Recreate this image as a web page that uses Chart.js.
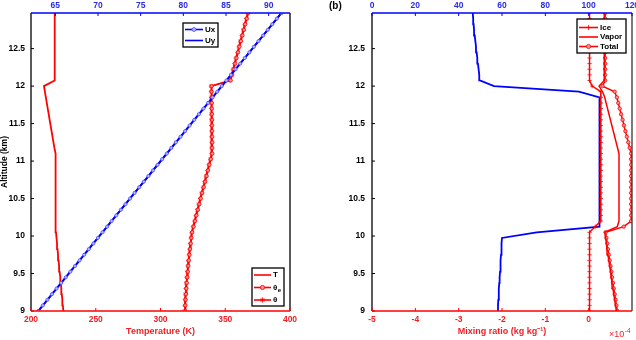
<!DOCTYPE html>
<html>
<head>
<meta charset="utf-8">
<script src="https://cdn.jsdelivr.net/npm/chart.js@4.4.1/dist/chart.umd.min.js"></script>
<style>
  html, body { margin: 0; padding: 0; background: #fff; overflow: hidden; }
  body { width: 636px; height: 340px; position: relative; }
  .panel { position: absolute; top: 0; height: 340px; }
  #left { left: 0; width: 316px; }
  #right { left: 316px; width: 336px; }
</style>
</head>
<body>
<div class="panel" id="left"><canvas id="tempChart"></canvas></div>
<div class="panel" id="right"><canvas id="mixChart"></canvas></div>
<script>
Chart.defaults.font.family = '"Liberation Sans", Arial, Helvetica, sans-serif';
Chart.defaults.color = '#000';

const RED = '#ff0000';
const BLUE = '#0000ff';
const RED_TXT = '#f01e23';
const BLUE_TXT = '#2a2ae6';

// altitude levels (km), shared by every profile
const altitude = [9, 9.075, 9.15, 9.225, 9.3, 9.375, 9.45, 9.525, 9.6, 9.675, 9.75, 9.825, 9.9, 9.975,
  10.05, 10.125, 10.2, 10.275, 10.35, 10.425, 10.5, 10.575, 10.65, 10.725, 10.8, 10.875, 10.95,
  11.025, 11.1, 11.175, 11.25, 11.325, 11.4, 11.475, 11.55, 11.625, 11.7, 11.775, 11.85, 11.925,
  12.0, 12.075, 12.15, 12.225, 12.3, 12.375, 12.45, 12.525, 12.6, 12.675, 12.75, 12.825, 12.9, 12.975];

const altTicks = [9, 9.5, 10, 10.5, 11, 11.5, 12, 12.5];
const tempTicks = [200, 250, 300, 350, 400];
const windTicks = [65, 70, 75, 80, 85, 90];
const mixTicks = [-5, -4, -3, -2, -1, 0];
const rhTicks = [0, 20, 40, 60, 80, 100, 120];

// panel (a)
const temperature = [225.0, 224.6, 224.2, 223.8, 223.4, 223.0, 222.6, 222.1, 221.7, 221.3, 220.9, 220.5, 220.1, 219.7,
  219.3, 219.17, 219.14, 219.11, 219.09, 219.06, 219.03, 219.0, 218.97, 218.94, 218.91, 218.89, 218.86,
  218.83, 218.8, 218.07, 217.33, 216.6, 215.87, 215.13, 214.4, 213.67, 212.93, 212.2, 211.47, 210.73,
  210.0, 218.3, 218.3, 218.3, 218.3, 218.3, 218.3, 218.3, 218.3, 218.3, 218.3, 218.3, 218.3, 218.3];
const thetaE = [319.0, 319.2, 319.4, 319.7, 320.0, 320.3, 320.7, 321.1, 321.5, 321.9, 322.4, 322.9, 323.4, 323.9,
  324.5, 325.6, 326.7, 327.8, 328.9, 330.0, 331.1, 332.2, 333.4, 334.5, 335.6, 336.7, 337.8,
  338.9, 340.0, 340.0, 340.0, 339.9, 339.9, 339.8, 339.8, 339.7, 339.7, 339.6, 339.6, 339.5,
  339.5, 354.2, 355.3, 356.5, 357.6, 358.7, 359.9, 361.0, 362.1, 363.3, 364.4, 365.5, 366.7, 367.8];
const theta = [318.5, 318.7, 318.9, 319.2, 319.5, 319.8, 320.2, 320.6, 321.0, 321.4, 321.9, 322.4, 322.9, 323.4,
  324.0, 325.1, 326.2, 327.3, 328.4, 329.5, 330.6, 331.7, 332.9, 334.0, 335.1, 336.2, 337.3,
  338.4, 339.5, 339.5, 339.5, 339.4, 339.4, 339.3, 339.3, 339.2, 339.2, 339.1, 339.1, 339.0,
  339.0, 353.7, 354.8, 356.0, 357.1, 358.2, 359.4, 360.5, 361.6, 362.8, 363.9, 365.0, 366.2, 367.3];
const ux = [63.00, 63.54, 64.08, 64.61, 65.15, 65.69, 66.23, 66.76, 67.30, 67.84, 68.38, 68.92, 69.45, 69.99,
  70.53, 71.07, 71.60, 72.14, 72.68, 73.22, 73.75, 74.29, 74.83, 75.37, 75.91, 76.44, 76.98,
  77.52, 78.06, 78.59, 79.13, 79.67, 80.21, 80.74, 81.28, 81.82, 82.36, 82.90, 83.43, 83.97,
  84.51, 85.05, 85.58, 86.12, 86.66, 87.20, 87.74, 88.27, 88.81, 89.35, 89.89, 90.42, 90.96, 91.50];
const uy = [63.00, 63.54, 64.08, 64.61, 65.15, 65.69, 66.23, 66.76, 67.30, 67.84, 68.38, 68.92, 69.45, 69.99,
  70.53, 71.07, 71.60, 72.14, 72.68, 73.22, 73.75, 74.29, 74.83, 75.37, 75.91, 76.44, 76.98,
  77.52, 78.06, 78.59, 79.13, 79.67, 80.21, 80.74, 81.28, 81.82, 82.36, 82.90, 83.43, 83.97,
  84.51, 85.05, 85.58, 86.12, 86.66, 87.20, 87.74, 88.27, 88.81, 89.35, 89.89, 90.42, 90.96, 91.50];

// panel (b)
const rh = [58.0, 58.15, 58.3, 58.45, 58.6, 58.75, 58.9, 59.1, 59.25, 59.4, 59.55, 59.7, 59.85, 60.0,
  76, 105, 105, 105, 105, 105, 105, 105, 105, 105, 105, 105, 105,
  105, 105, 105, 105, 105, 105, 105, 105, 105, 105, 105, 105, 95.5,
  56.3, 49.8, 49.5, 49.2, 48.9, 48.6, 48.3, 48.0, 47.7, 47.4, 47.1, 46.9, 46.7, 46.5];
const ice = [0.02, 0.02, 0.02, 0.02, 0.02, 0.02, 0.02, 0.02, 0.02, 0.02, 0.02, 0.02, 0.02, 0.02,
  0.02, 0.15, 0.28, 0.28, 0.28, 0.28, 0.28, 0.28, 0.28, 0.28, 0.28, 0.28, 0.28,
  0.28, 0.28, 0.28, 0.28, 0.28, 0.28, 0.28, 0.28, 0.28, 0.28, 0.28, 0.28, 0.28,
  0.08, 0.02, 0.02, 0.02, 0.02, 0.02, 0.02, 0.02, 0.02, 0.02, 0.02, 0.02, 0.02, 0.02];
const vapor = [0.64, 0.62, 0.60, 0.58, 0.56, 0.54, 0.52, 0.505, 0.485, 0.465, 0.445, 0.425, 0.41, 0.39,
  0.37, 0.66, 0.70, 0.70, 0.70, 0.70, 0.70, 0.70, 0.70, 0.70, 0.70, 0.70, 0.70,
  0.70, 0.70, 0.667, 0.634, 0.601, 0.568, 0.535, 0.502, 0.469, 0.436, 0.403, 0.37, 0.32,
  0.24, 0.36, 0.36, 0.36, 0.36, 0.36, 0.36, 0.36, 0.36, 0.36, 0.36, 0.36, 0.36, 0.36];
const total = [0.66, 0.64, 0.62, 0.60, 0.58, 0.56, 0.54, 0.525, 0.505, 0.485, 0.465, 0.445, 0.43, 0.41,
  0.39, 0.81, 0.98, 0.98, 0.98, 0.98, 0.98, 0.98, 0.98, 0.98, 0.98, 0.98, 0.98,
  0.98, 0.98, 0.947, 0.914, 0.881, 0.848, 0.815, 0.782, 0.749, 0.716, 0.683, 0.65, 0.60,
  0.32, 0.38, 0.38, 0.38, 0.38, 0.38, 0.38, 0.38, 0.38, 0.38, 0.38, 0.38, 0.38, 0.38];

const profile = vals => vals.map((v, i) => ({ x: v, y: altitude[i] }));
const fmt = v => String(v);

function linScale(pos, min, max, ticks, color, size, pad, extra) {
  return Object.assign({
    type: 'linear', position: pos, min: min, max: max,
    grid: { display: false, drawTicks: false },
    border: { display: false },
    ticks: { color: color, padding: pad, font: { size: 8.5, weight: 'bold' }, callback: fmt, maxRotation: 0, autoSkip: false },
    afterBuildTicks: s => { s.ticks = ticks.map(v => ({ value: v })); },
    afterFit: s => { if (s.isHorizontal()) s.height = size; else s.width = size; }
  }, extra || {});
}

// box edges in axis colours, with short inward tick marks
const frameTicks = {
  id: 'frameTicks',
  afterDraw(chart, args, opts) {
    const { ctx, chartArea: a, scales } = chart;
    ctx.save();
    opts.edges.forEach(e => {
      ctx.strokeStyle = e.color;
      ctx.lineWidth = e.width;
      ctx.beginPath();
      if (e.side === 'top') { ctx.moveTo(a.left, a.top); ctx.lineTo(a.right, a.top); }
      if (e.side === 'bottom') { ctx.moveTo(a.left, a.bottom); ctx.lineTo(a.right, a.bottom); }
      if (e.side === 'left') { ctx.moveTo(a.left, a.top); ctx.lineTo(a.left, a.bottom); }
      if (e.side === 'right') { ctx.moveTo(a.right, a.top); ctx.lineTo(a.right, a.bottom); }
      ctx.stroke();
      const s = e.scale ? scales[e.scale] : null;
      if (!s) return;
      ctx.lineWidth = 1;
      ctx.beginPath();
      s.ticks.forEach(t => {
        const p = s.getPixelForValue(t.value);
        if (e.side === 'top') { ctx.moveTo(p, a.top); ctx.lineTo(p, a.top + 3); }
        if (e.side === 'bottom') { ctx.moveTo(p, a.bottom); ctx.lineTo(p, a.bottom - 3); }
        if (e.side === 'left') { ctx.moveTo(a.left, p); ctx.lineTo(a.left + 3, p); }
      });
      ctx.stroke();
    });
    ctx.restore();
  }
};

// matlab-like boxed legends inside the axes
const boxLegend = {
  id: 'boxLegend',
  afterDraw(chart, args, opts) {
    const ctx = chart.ctx;
    ctx.save();
    opts.boxes.forEach(b => {
      ctx.fillStyle = '#fff';
      ctx.fillRect(b.x, b.y, b.w, b.h);
      ctx.strokeStyle = '#000';
      ctx.lineWidth = 1.3;
      ctx.strokeRect(b.x, b.y, b.w, b.h);
      b.items.forEach((it, k) => {
        const ds = chart.data.datasets[it.dataset];
        const yy = b.rows[k];
        ctx.strokeStyle = ds.borderColor;
        ctx.lineWidth = 1.6;
        ctx.beginPath();
        ctx.moveTo(b.x0, yy);
        ctx.lineTo(b.x1, yy);
        ctx.stroke();
        if (ds.pointRadius > 0) {
          ctx.fillStyle = ds.pointBackgroundColor;
          ctx.strokeStyle = ds.pointBorderColor;
          ctx.lineWidth = ds.pointBorderWidth;
          Chart.helpers.drawPoint(ctx, { pointStyle: ds.pointStyle, radius: ds.pointRadius + 0.4, borderWidth: ds.pointBorderWidth, rotation: 0 }, (b.x0 + b.x1) / 2, yy);
        }
        ctx.fillStyle = '#000';
        ctx.textAlign = 'left';
        ctx.textBaseline = 'middle';
        ctx.font = 'bold 8px "Liberation Sans", Arial, sans-serif';
        ctx.fillText(it.text, b.tx, yy);
        if (it.sub) {
          const w = ctx.measureText(it.text).width;
          ctx.font = 'bold 6px "Liberation Sans", Arial, sans-serif';
          ctx.fillText(it.sub, b.tx + w + 0.5, yy + 2.5);
        }
      });
    });
    ctx.restore();
  }
};

// free text: panel letter and exponent label
const extraText = {
  id: 'extraText',
  afterDraw(chart, args, opts) {
    const ctx = chart.ctx;
    ctx.save();
    ctx.textBaseline = 'middle';
    ctx.textAlign = 'left';
    opts.texts.forEach(t => {
      ctx.fillStyle = t.color;
      ctx.font = t.font;
      ctx.fillText(t.text, t.x, t.y);
      if (t.sup) {
        const w = ctx.measureText(t.text).width;
        ctx.font = t.supFont;
        ctx.fillText(t.sup, t.x + w + 0.5, t.y - 4);
      }
    });
    ctx.restore();
  }
};

new Chart(document.getElementById('tempChart'), {
  type: 'scatter',
  data: {
    datasets: [
      { label: 'Ux', data: profile(ux), xAxisID: 'xTop', showLine: true, borderColor: BLUE, backgroundColor: BLUE, borderWidth: 1.8,
        pointStyle: 'circle', pointRadius: 1.6, pointBorderWidth: 0.8, pointBackgroundColor: '#b4b4ff', pointBorderColor: '#5050ff' },
      { label: 'Uy', data: profile(uy), xAxisID: 'xTop', showLine: true, borderColor: BLUE, backgroundColor: BLUE, borderWidth: 1.8, pointRadius: 0 },
      { label: 'T', data: profile(temperature), showLine: true, borderColor: RED, backgroundColor: RED, borderWidth: 1.8, pointRadius: 0 },
      { label: 'θe', data: profile(thetaE), showLine: true, borderColor: RED, backgroundColor: RED, borderWidth: 1.6,
        pointStyle: 'circle', pointRadius: 1.7, pointBorderWidth: 0.8, pointBackgroundColor: '#ff9090', pointBorderColor: RED },
      { label: 'θ', data: profile(theta), showLine: true, borderColor: RED, backgroundColor: RED, borderWidth: 1.6,
        pointStyle: 'star', pointRadius: 2.2, pointBorderWidth: 0.8, pointBackgroundColor: RED, pointBorderColor: RED }
    ]
  },
  options: {
    responsive: true,
    maintainAspectRatio: false,
    animation: false,
    events: [],
    layout: { padding: { left: 0, right: 26, top: 0, bottom: 0 } },
    plugins: {
      legend: { display: false },
      tooltip: { enabled: false },
      frameTicks: {
        edges: [
          { side: 'left', scale: 'y', color: '#000', width: 1.3 },
          { side: 'right', color: '#000', width: 1.3 },
          { side: 'top', scale: 'xTop', color: BLUE, width: 1.6 },
          { side: 'bottom', scale: 'x', color: RED, width: 1.6 }
        ]
      },
      boxLegend: {
        boxes: [
          { x: 183, y: 23, w: 35, h: 24, rows: [29.5, 40.5], x0: 185, x1: 203, tx: 205,
            items: [{ dataset: 0, text: 'Ux' }, { dataset: 1, text: 'Uy' }] },
          { x: 252, y: 268, w: 32, h: 38, rows: [275, 287.5, 300], x0: 254, x1: 271, tx: 273,
            items: [{ dataset: 2, text: 'T' }, { dataset: 3, text: 'θ', sub: 'e' }, { dataset: 4, text: 'θ' }] }
        ]
      },
      extraText: { texts: [] }
    },
    scales: {
      x: linScale('bottom', 200, 400, tempTicks, RED_TXT, 29, 4, {
        title: { display: true, text: 'Temperature (K)', color: RED_TXT, font: { size: 9, weight: 'bold' }, padding: { top: 0, bottom: 3 } }
      }),
      xTop: linScale('top', 62.15, 92.5, windTicks, BLUE_TXT, 13, 2),
      y: linScale('left', 9, 12.975, altTicks, '#000', 31, 6, {
        title: { display: true, text: 'Altitude (km)', color: '#000', font: { size: 8.5, weight: 'bold' }, padding: { top: 0, bottom: 0 } }
      })
    }
  },
  plugins: [frameTicks, boxLegend, extraText]
});

new Chart(document.getElementById('mixChart'), {
  type: 'scatter',
  data: {
    datasets: [
      { label: 'Ice', data: profile(ice), showLine: true, borderColor: RED, backgroundColor: RED, borderWidth: 1.5,
        pointStyle: 'cross', pointRadius: 2.2, pointBorderWidth: 0.8, pointBackgroundColor: RED, pointBorderColor: RED },
      { label: 'Vapor', data: profile(vapor), showLine: true, borderColor: RED, backgroundColor: RED, borderWidth: 1.5, pointRadius: 0 },
      { label: 'Total', data: profile(total), showLine: true, borderColor: RED, backgroundColor: RED, borderWidth: 1.5,
        pointStyle: 'circle', pointRadius: 1.7, pointBorderWidth: 0.8, pointBackgroundColor: '#ff9090', pointBorderColor: RED },
      { label: 'RH', data: profile(rh), xAxisID: 'xTop', showLine: true, borderColor: BLUE, backgroundColor: BLUE, borderWidth: 1.8, pointRadius: 0 }
    ]
  },
  options: {
    responsive: true,
    maintainAspectRatio: false,
    animation: false,
    events: [],
    layout: { padding: { left: 0, right: 20, top: 0, bottom: 0 } },
    plugins: {
      legend: { display: false },
      tooltip: { enabled: false },
      frameTicks: {
        edges: [
          { side: 'left', scale: 'y', color: '#000', width: 1.3 },
          { side: 'right', color: '#333', width: 1.3 },
          { side: 'top', scale: 'xTop', color: BLUE, width: 1.6 },
          { side: 'bottom', scale: 'x', color: RED, width: 1.6 }
        ]
      },
      boxLegend: {
        boxes: [
          { x: 261, y: 19, w: 49, h: 34, rows: [27.5, 37, 46.5], x0: 263, x1: 282, tx: 284,
            items: [{ dataset: 0, text: 'Ice' }, { dataset: 1, text: 'Vapor' }, { dataset: 2, text: 'Total' }] }
        ]
      },
      extraText: {
        texts: [
          { text: '(b)', x: 13, y: 6.5, color: '#000', font: 'bold 10px "Liberation Sans", Arial, sans-serif' },
          { text: '×10', x: 293, y: 335, color: RED_TXT, font: '9px "Liberation Sans", Arial, sans-serif',
            sup: '-4', supFont: '6.5px "Liberation Sans", Arial, sans-serif' }
        ]
      }
    },
    scales: {
      x: linScale('bottom', -5, 1, mixTicks, RED_TXT, 29, 4, {
        title: { display: true, text: 'Mixing ratio (kg kg⁻¹)', color: RED_TXT, font: { size: 9, weight: 'bold' }, padding: { top: 0, bottom: 3 } }
      }),
      xTop: linScale('top', 0, 120, rhTicks, BLUE_TXT, 13, 2),
      y: linScale('left', 9, 12.975, altTicks, '#000', 56, 7)
    }
  },
  plugins: [frameTicks, boxLegend, extraText]
});
</script>
</body>
</html>
